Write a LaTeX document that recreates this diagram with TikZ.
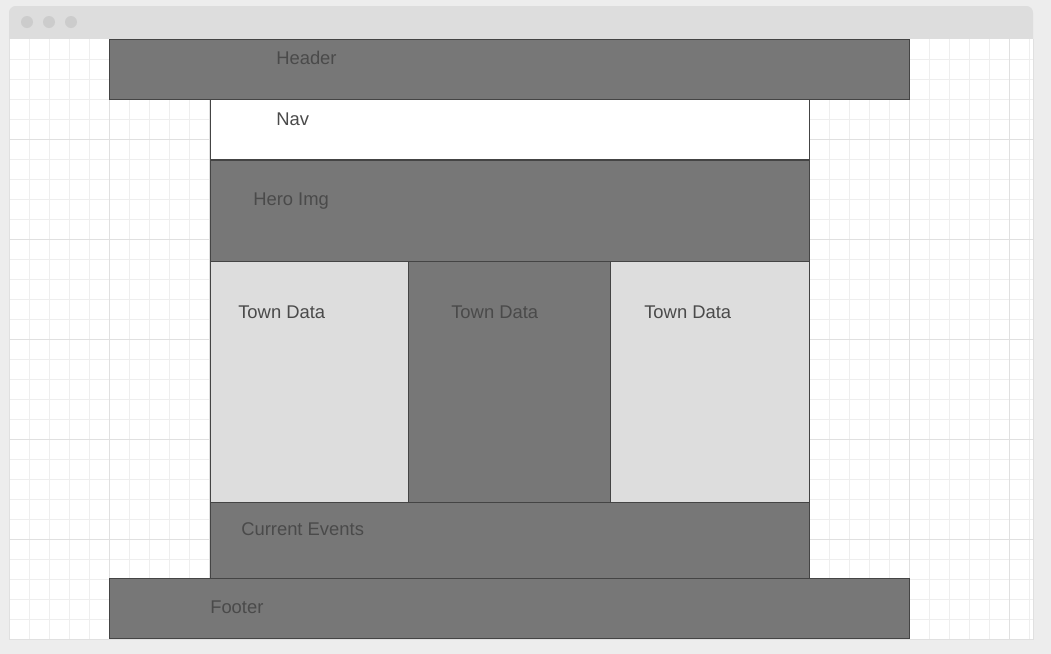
\documentclass[tikz,border=0pt]{standalone}
\usepackage{fontspec}
\setmainfont{Liberation Sans}
\definecolor{pagebg}{HTML}{EDEDED}
\definecolor{barfill}{HTML}{DDDDDD}
\definecolor{dotgrey}{HTML}{CCCCCC}
\definecolor{gridminor}{HTML}{EEEEEE}
\definecolor{gridmajor}{HTML}{E0E0E0}
\definecolor{darkbox}{HTML}{777777}
\definecolor{lightbox}{HTML}{DDDDDD}
\definecolor{edgegrey}{HTML}{444444}
\definecolor{txtgrey}{HTML}{4A4A4A}
\begin{document}
\begin{tikzpicture}[x=0.75pt,y=-0.75pt]

  \tikzstyle{every node}+=[inner sep=0pt, anchor=base west, text=txtgrey, font=\fontsize{13.8}{16}\selectfont]
  \tikzstyle{darkpart}=[fill=darkbox, draw=edgegrey, line width=0.75pt]
  \tikzstyle{lightpart}=[fill=lightbox, draw=edgegrey, line width=0.75pt]
  \tikzstyle{whitepart}=[fill=white, draw=edgegrey, line width=0.75pt]
  \useasboundingbox (0,0) rectangle (1051,654);
  \fill [pagebg] (0,0) rectangle (1051,654);
  % window frame
  \fill [barfill, rounded corners=5] (9,6) rectangle (1033,50);
  \fill [dotgrey] (27,22) circle (6);
  \fill [dotgrey] (49,22) circle (6);
  \fill [dotgrey] (71,22) circle (6);
  \fill [white] (9,39) rectangle (1033,639);
  \foreach \x in {29,49,...,1029}
    \draw [gridminor, line width=0.75pt] (\x,39) -- (\x,639);
  \foreach \y in {59,79,...,619}
    \draw [gridminor, line width=0.75pt] (9,\y) -- (1033,\y);
  \foreach \x in {109,209,...,1009}
    \draw [gridmajor, line width=0.75pt] (\x,39) -- (\x,639);
  \foreach \y in {139,239,...,539}
    \draw [gridmajor, line width=0.75pt] (9,\y) -- (1033,\y);
  \draw [gridmajor, line width=0.75pt] (9,39) -- (9,639) -- (1033,639) -- (1033,39);
  % page parts
  \draw [darkpart] (109,39) rectangle (909,99);
  \draw (276,64) node (header) {Header};
  \draw [whitepart] (210,99) rectangle (809,159);
  \draw (276,125) node (nav) {Nav};
  \draw [darkpart] (210,160) rectangle (809,261);
  \draw (253,205) node (hero) {Hero Img};
  \draw [lightpart] (210,261) rectangle (408,502);
  \draw (238,318) node (townA) {Town Data};
  \draw [darkpart] (408,261) rectangle (610,502);
  \draw (451,318) node (townB) {Town Data};
  \draw [lightpart] (610,261) rectangle (809,502);
  \draw (644,318) node (townC) {Town Data};
  \draw [darkpart] (210,502) rectangle (809,578);
  \draw (241,535) node (events) {Current Events};
  \draw [darkpart] (109,578) rectangle (909,638);
  \draw (210,613) node (footer) {Footer};

\end{tikzpicture}
\end{document}
